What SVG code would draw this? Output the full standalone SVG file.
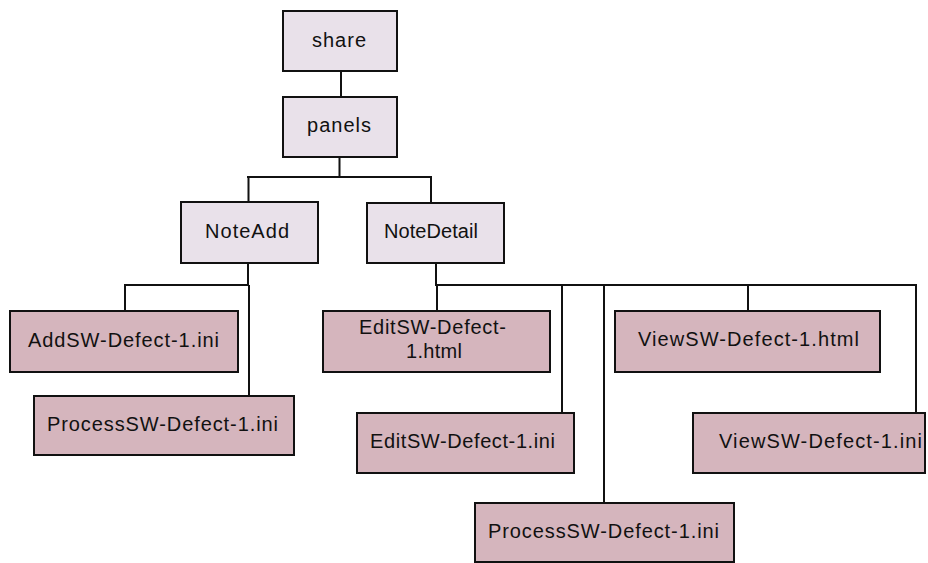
<svg xmlns="http://www.w3.org/2000/svg" width="928" height="563" viewBox="0 0 928 563">
<style>
.top{fill:#E9E1EA;stroke:#111;stroke-width:2}
.leaf{fill:#D5B5BD;stroke:#111;stroke-width:2}
.t{font-family:"Liberation Sans",Arial,sans-serif;font-size:20px;fill:#111}
.c{fill:none;stroke:#111;stroke-width:2}
</style>
<rect width="928" height="563" fill="#fff"/>
<g id="connectors">
<path class="c" d="M341,70V97"/>
<path class="c" d="M339.5,157V177M247,177H432M248.5,177V202M431,177V202"/>
<path class="c" d="M248,263V285M124,285H249M125,285V311M249,285V396"/>
<path class="c" d="M436,263V285M435,285H917M437,285V311M562,285V413M604,285V503M748,285V311M916,285V413"/>
</g>
<g id="share"><rect class="top" x="283" y="11" width="114" height="60"/><text class="t" x="312" y="47" textLength="54">share</text></g>
<g id="panels"><rect class="top" x="283" y="97" width="114" height="60"/><text class="t" x="307" y="132" textLength="64">panels</text></g>
<g id="NoteAdd"><rect class="top" x="181" y="202" width="137" height="61"/><text class="t" x="205" y="238" textLength="84">NoteAdd</text></g>
<g id="NoteDetail"><rect class="top" x="367" y="203" width="137" height="60"/><text class="t" x="384" y="238" textLength="94">NoteDetail</text></g>
<g id="AddSW-ini"><rect class="leaf" x="10" y="311" width="228" height="61"/><text class="t" x="28" y="347" textLength="191">AddSW-Defect-1.ini</text></g>
<g id="ProcessSW-ini-add"><rect class="leaf" x="34" y="396" width="260" height="59"/><text class="t" x="47" y="431" textLength="231">ProcessSW-Defect-1.ini</text></g>
<g id="EditSW-html"><rect class="leaf" x="323" y="311" width="227" height="61"/><text class="t" x="359" y="334" textLength="147">EditSW-Defect-</text><text class="t" x="406" y="358" textLength="56">1.html</text></g>
<g id="EditSW-ini"><rect class="leaf" x="357" y="413" width="217" height="60"/><text class="t" x="370" y="448" textLength="185">EditSW-Defect-1.ini</text></g>
<g id="ViewSW-html"><rect class="leaf" x="615" y="311" width="265" height="61"/><text class="t" x="638" y="346" textLength="221">ViewSW-Defect-1.html</text></g>
<g id="ViewSW-ini"><rect class="leaf" x="693" y="413" width="232" height="60"/><text class="t" x="719" y="448" textLength="203">ViewSW-Defect-1.ini</text></g>
<g id="ProcessSW-ini-detail"><rect class="leaf" x="475" y="503" width="259" height="59"/><text class="t" x="488" y="538" textLength="231">ProcessSW-Defect-1.ini</text></g>
</svg>
